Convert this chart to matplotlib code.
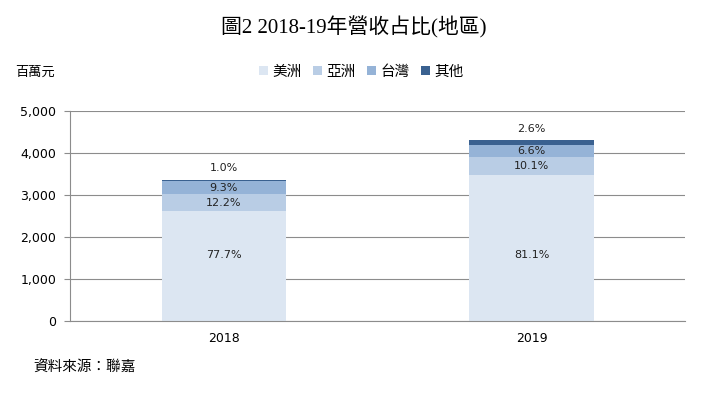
import numpy as np
import matplotlib
matplotlib.use('Agg')
import matplotlib.pyplot as plt
from matplotlib.patches import Patch

plt.rcParams['font.family'] = ['DejaVu Sans', 'Noto Sans CJK TC']

years = ['2018', '2019']
regions = ['美洲', '亞洲', '台灣', '其他']
totals = [3360, 4285]
shares = {
    '美洲': [77.7, 81.1],
    '亞洲': [12.2, 10.1],
    '台灣': [9.3, 6.6],
    '其他': [1.0, 2.6],
}
colors = ['#dce6f2', '#b9cde5', '#95b3d7', '#3a6190']

fig = plt.figure(figsize=(7.08, 3.95), dpi=100)
ax = fig.add_axes([0.099, 0.187, 0.869, 0.532])

x = np.arange(len(years))
bottom = np.zeros(len(years))
for reg, col in zip(regions, colors):
    pct = np.array(shares[reg])
    vals = pct / 100.0 * np.array(totals)
    ax.bar(x, vals, 0.405, bottom=bottom, color=col, zorder=2)
    for i in range(len(years)):
        if reg == '其他':
            ypos = bottom[i] + vals[i] + 270
        elif reg == '美洲':
            # excel puts the big label a bit off-centre
            ypos = 1570
        else:
            ypos = bottom[i] + vals[i] / 2
        ax.text(x[i], ypos, '%.1f%%' % pct[i], ha='center', va='center',
                fontsize=8, color='#222222', zorder=3)
    bottom = bottom + vals

ax.set_xlim(-0.5, 1.5)
ax.set_ylim(0, 5000)
ax.set_yticks(np.arange(0, 5001, 1000))
ax.set_yticklabels(['{:,}'.format(v) for v in range(0, 5001, 1000)])
ax.set_xticks(x)
ax.set_xticklabels(years)
ax.yaxis.grid(True, color='#8c8c8c', linewidth=0.8, zorder=0)
ax.set_axisbelow(True)
for s in ['top', 'right']:
    ax.spines[s].set_visible(False)
for s in ['left', 'bottom']:
    ax.spines[s].set_color('#8c8c8c')
ax.tick_params(axis='y', length=4, color='#8c8c8c', labelsize=9, pad=6)
ax.tick_params(axis='x', length=0, labelsize=9, pad=8)

fig.text(0.5, 0.93, '圖2 2018-19年營收占比(地區)', ha='center', va='center',
         fontsize=15, family=['Liberation Serif', 'Noto Sans CJK TC'])
fig.text(0.022, 0.818, '百萬元', ha='left', va='center', fontsize=9.5,
         family=['Noto Sans CJK TC'])
fig.text(0.047, 0.07, '資料來源：聯嘉', ha='left', va='center', fontsize=10.5,
         family=['Noto Sans CJK TC'])

handles = [Patch(facecolor=c, edgecolor='none') for c in colors]
fig.legend(handles, regions, loc='center', bbox_to_anchor=(0.51, 0.818), ncol=4,
           frameon=False, handlelength=0.6, handleheight=0.6, handletextpad=0.3,
           columnspacing=0.8, prop={'family': 'Noto Sans CJK TC', 'size': 10.5})

fig.savefig('out.png', dpi=100)
